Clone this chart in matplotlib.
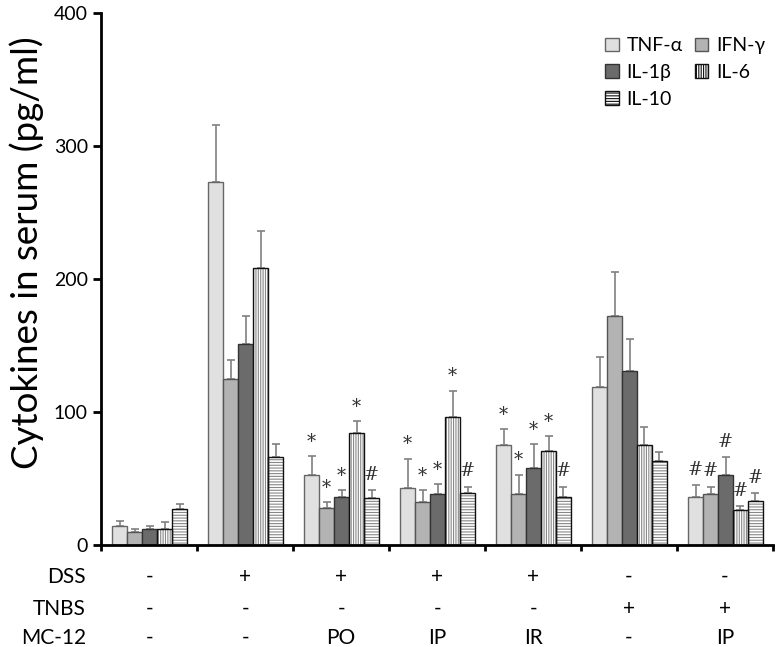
import numpy as np
import matplotlib
matplotlib.use('Agg')
import matplotlib.pyplot as plt
import matplotlib.patches as mpatches

plt.rcParams['font.family'] = ['Lato', 'DejaVu Sans']
plt.rcParams['hatch.linewidth'] = 0.8

# groups: control, DSS, DSS+PO, DSS+IP, DSS+IR, TNBS, TNBS+IP
cytokines = ['TNF-α', 'IFN-γ', 'IL-1β', 'IL-6', 'IL-10']
tnf = [14, 273, 53, 43, 75, 119, 36]
ifn = [10, 125, 28, 32, 38, 172, 38]
il1b = [12, 151, 36, 38, 58, 131, 53]
il6 = [12, 208, 84, 96, 71, 75, 26]
il10 = [27, 66, 35, 39, 36, 63, 33]

tnf_err = [4, 43, 14, 22, 12, 22, 9]
ifn_err = [2, 14, 4, 9, 15, 33, 6]
il1b_err = [2, 21, 5, 8, 18, 24, 13]
il6_err = [5, 28, 9, 20, 11, 14, 3]
il10_err = [4, 10, 6, 5, 8, 7, 6]

# significance marks above each bar ('' = none)
tnf_sig = ['', '', '*', '*', '*', '', '#']
ifn_sig = ['', '', '*', '*', '*', '', '#']
il1b_sig = ['', '', '*', '*', '*', '', '#']
il6_sig = ['', '', '*', '*', '*', '', '#']
il10_sig = ['', '', '#', '#', '#', '', '#']

dss = ['-', '+', '+', '+', '+', '-', '-']
tnbs = ['-', '-', '-', '-', '-', '+', '+']
mc12 = ['-', '-', 'PO', 'IP', 'IR', '-', 'IP']

values = [tnf, ifn, il1b, il6, il10]
errors = [tnf_err, ifn_err, il1b_err, il6_err, il10_err]
sigs = [tnf_sig, ifn_sig, il1b_sig, il6_sig, il10_sig]
faces = ['#e0e0e0', '#b3b3b3', '#6b6b6b', 'white', 'white']
hatches = [None, None, None, '|||||||', '------']
edges = ['#666666', '#555555', '#333333', '#111111', '#111111']

fig = plt.figure(figsize=(7.78, 6.47), dpi=100)
ax = fig.add_axes([0.13, 0.1576, 0.8636, 0.8224])

x = np.arange(len(tnf))
w = 0.156
offsets = (np.arange(5) - 2) * w + 0.005

for i in range(5):
    pos = x + offsets[i]
    if hatches[i]:
        ax.bar(pos, values[i], w, color=faces[i], edgecolor='#888888',
               hatch=hatches[i], linewidth=0, zorder=2)
        ax.bar(pos, values[i], w, fill=False, edgecolor=edges[i],
               linewidth=1.0, zorder=3)
    else:
        ax.bar(pos, values[i], w, color=faces[i], edgecolor=edges[i],
               linewidth=1.0, zorder=2)
    # upper error bars only
    ax.errorbar(pos, values[i], yerr=[np.zeros(len(x)), errors[i]], fmt='none',
                ecolor='#808080', elinewidth=1.2, capsize=3, capthick=1.2, zorder=1)
    for j in range(len(x)):
        s = sigs[i][j]
        if s == '*':
            ax.text(pos[j], values[i][j] + errors[i][j] + 4, '*', ha='center',
                    va='bottom', fontsize=13, family='DejaVu Serif', color='#333333')
        elif s == '#':
            ax.text(pos[j], values[i][j] + errors[i][j] + 5, '#', ha='center',
                    va='bottom', fontsize=13, family='DejaVu Serif', color='#333333')

ax.set_xlim(-0.5, 6.5)
ax.set_ylim(0, 400)
ax.set_yticks([0, 100, 200, 300, 400])
ax.tick_params(axis='y', labelsize=14, width=2, length=6, direction='out')
ax.set_xticks(np.arange(-0.5, 7, 1))
ax.set_xticklabels([])
ax.tick_params(axis='x', width=2, length=4, direction='out')
ax.spines['top'].set_visible(False)
ax.spines['right'].set_visible(False)
ax.spines['left'].set_linewidth(2)
ax.spines['bottom'].set_linewidth(2)
ax.set_ylabel('Cytokines in serum (pg/ml)', fontsize=26.5)
ax.yaxis.set_label_coords(-0.085, 0.55)

# condition table below the axis
rows = [('DSS', dss), ('TNBS', tnbs), ('MC-12', mc12)]
row_y = [-24, -48, -70]
for (name, vals), yy in zip(rows, row_y):
    ax.text(-0.66, yy, name, ha='right', va='center', fontsize=15, clip_on=False)
    for j, v in enumerate(vals):
        ax.text(x[j], yy, v, ha='center', va='center', fontsize=15, clip_on=False)

handles = [
    mpatches.Patch(facecolor=faces[0], edgecolor=edges[0], label=cytokines[0]),
    mpatches.Patch(facecolor=faces[1], edgecolor=edges[1], label=cytokines[1]),
    mpatches.Patch(facecolor=faces[2], edgecolor=edges[2], label=cytokines[2]),
    mpatches.Patch(facecolor='white', edgecolor='#111111', hatch='|||||||', label=cytokines[3]),
    mpatches.Patch(facecolor='white', edgecolor='#111111', hatch='------', label=cytokines[4]),
]
# order for 2-column legend (row-wise): TNF, IFN / IL-1b, IL-6 / IL-10
order = [0, 2, 4, 1, 3]
ax.legend([handles[k] for k in order], [cytokines[k] for k in order], ncol=2,
          frameon=False, loc='upper left', bbox_to_anchor=(0.73, 0.98),
          borderpad=0.2, fontsize=14, handlelength=0.7, handleheight=0.7,
          handletextpad=0.4, columnspacing=0.6, labelspacing=0.5)

fig.savefig('out.png', dpi=100)
